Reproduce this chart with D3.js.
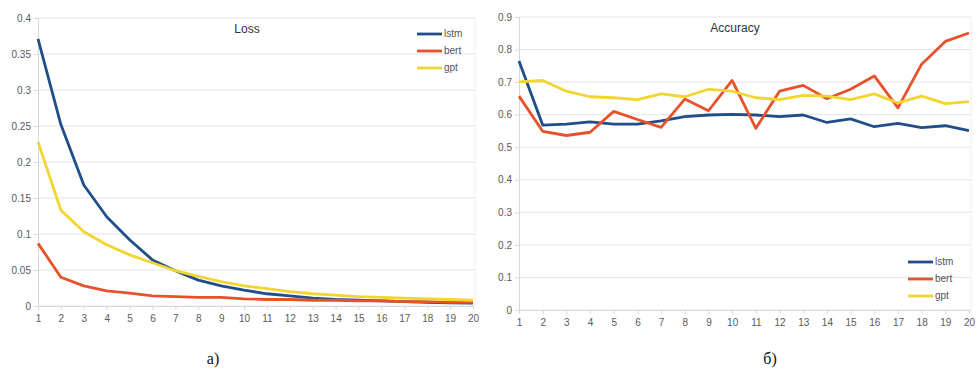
<!DOCTYPE html>
<html>
<head>
<meta charset="utf-8">
<script src="https://cdn.jsdelivr.net/npm/d3@7"></script>
<style>
  body { margin: 0; background: #fff; }
  svg { display: block; }
  .tick text { fill: #5a5a5a; font-family: "Liberation Sans", Arial, sans-serif; font-size: 10px; }
</style>
</head>
<body>
<div id="chart"></div>
<script>
// epochs 1..20
var epochs = d3.range(1, 21);

// Loss values
var lossLstm = [0.371, 0.252, 0.168, 0.124, 0.092, 0.064, 0.049, 0.036, 0.028, 0.022,
                0.017, 0.014, 0.011, 0.009, 0.008, 0.007, 0.006, 0.005, 0.0045, 0.004];
var lossBert = [0.087, 0.040, 0.028, 0.021, 0.018, 0.014, 0.013, 0.012, 0.012, 0.010,
                0.009, 0.009, 0.008, 0.008, 0.007, 0.007, 0.006, 0.006, 0.005, 0.005];
var lossGpt = [0.228, 0.133, 0.103, 0.085, 0.071, 0.060, 0.049, 0.041, 0.034, 0.028,
               0.024, 0.020, 0.017, 0.015, 0.013, 0.012, 0.011, 0.010, 0.009, 0.008];

// Accuracy values
var accLstm = [0.765, 0.568, 0.571, 0.578, 0.571, 0.571, 0.581, 0.594, 0.599, 0.601,
               0.599, 0.594, 0.599, 0.576, 0.587, 0.563, 0.573, 0.560, 0.566, 0.551];
var accBert = [0.657, 0.549, 0.536, 0.546, 0.610, 0.585, 0.561, 0.648, 0.612, 0.705,
               0.558, 0.672, 0.690, 0.649, 0.678, 0.719, 0.621, 0.755, 0.825, 0.851];
var accGpt = [0.701, 0.705, 0.672, 0.655, 0.652, 0.646, 0.664, 0.655, 0.678, 0.672,
              0.652, 0.646, 0.659, 0.657, 0.646, 0.664, 0.636, 0.657, 0.634, 0.640];

var lossTicks = [0, 0.05, 0.1, 0.15, 0.2, 0.25, 0.3, 0.35, 0.4];
var accTicks = [0, 0.1, 0.2, 0.3, 0.4, 0.5, 0.6, 0.7, 0.8, 0.9];

var seriesNames = ["lstm", "bert", "gpt"];
var colors = {lstm: "#1f4e8a", bert: "#e8522a", gpt: "#f2d530"};

var svg = d3.select("#chart").append("svg")
    .attr("width", 977)
    .attr("height", 370);

// draw one line chart panel
function drawPanel(opts) {
  var g = svg.append("g");
  var x = d3.scaleLinear().domain([1, 20]).range([opts.left, opts.right]);
  var y = d3.scaleLinear().domain([0, opts.max]).range([opts.bottom, opts.top]);

  // grid
  g.append("g")
    .selectAll("line")
    .data(opts.ticks)
    .enter().append("line")
      .attr("x1", opts.left).attr("x2", opts.right + 2)
      .attr("y1", d => y(d)).attr("y2", d => y(d))
      .attr("stroke", "#e4e4e4")
      .attr("stroke-width", 1);

  // right border
  g.append("line")
    .attr("x1", opts.right + 2).attr("x2", opts.right + 2)
    .attr("y1", opts.top).attr("y2", opts.bottom)
    .attr("stroke", "#eeeeee");

  // y axis
  var yAxis = d3.axisLeft(y).tickValues(opts.ticks).tickSize(4).tickPadding(3)
      .tickFormat(d => String(+d.toFixed(2)));
  var ya = g.append("g")
    .attr("transform", `translate(${opts.left},0)`)
    .call(yAxis);
  ya.select(".domain").attr("stroke", "#d8d8d8");
  ya.selectAll(".tick line").attr("stroke", "#d8d8d8");

  // x axis
  var xAxis = d3.axisBottom(x).tickValues(epochs).tickSize(4).tickPadding(5)
      .tickFormat(d3.format("d"));
  var xa = g.append("g")
    .attr("transform", `translate(0,${opts.bottom})`)
    .call(xAxis);
  xa.select(".domain").attr("stroke", "#d8d8d8");
  xa.selectAll(".tick line").attr("stroke", "#d8d8d8");

  // lines
  var line = d3.line()
    .x((d, i) => x(epochs[i]))
    .y(d => y(d));

  opts.series.forEach(function(s) {
    g.append("path")
      .datum(s.values)
      .attr("d", line)
      .attr("fill", "none")
      .attr("stroke", colors[s.name])
      .attr("stroke-width", 2.8)
      .attr("stroke-linejoin", "round");
  });

  // title
  g.append("text")
    .attr("x", opts.titleX)
    .attr("y", opts.top + 15)
    .attr("text-anchor", "middle")
    .attr("font-family", "Liberation Sans, Arial, sans-serif")
    .attr("font-size", 12)
    .attr("fill", "#333")
    .text(opts.title);

  // legend
  var leg = g.append("g")
    .attr("transform", `translate(${opts.legX},${opts.legY})`);
  seriesNames.forEach(function(n, i) {
    leg.append("line")
      .attr("x1", 0).attr("x2", 25)
      .attr("y1", i * 17).attr("y2", i * 17)
      .attr("stroke", colors[n])
      .attr("stroke-width", 2.8);
    leg.append("text")
      .attr("x", 27)
      .attr("y", i * 17 + 3)
      .attr("font-family", "Liberation Sans Narrow, Liberation Sans, sans-serif")
      .attr("font-size", 10)
      .attr("fill", "#555")
      .text(n);
  });

  // caption below
  svg.append("text")
    .attr("x", opts.capX)
    .attr("y", 364)
    .attr("text-anchor", "middle")
    .attr("font-family", "Liberation Serif, Times New Roman, serif")
    .attr("font-size", 16)
    .attr("fill", "#111")
    .text(opts.caption);
}

drawPanel({
  left: 38, right: 473, top: 18, bottom: 306, max: 0.4,
  ticks: lossTicks,
  series: [
    {name: "lstm", values: lossLstm},
    {name: "bert", values: lossBert},
    {name: "gpt", values: lossGpt}
  ],
  title: "Loss", titleX: 247,
  legX: 417, legY: 34,
  caption: "а)", capX: 213
});

drawPanel({
  left: 519, right: 969, top: 17, bottom: 310, max: 0.9,
  ticks: accTicks,
  series: [
    {name: "lstm", values: accLstm},
    {name: "bert", values: accBert},
    {name: "gpt", values: accGpt}
  ],
  title: "Accuracy", titleX: 735,
  legX: 908, legY: 262,
  caption: "б)", capX: 770
});
</script>
</body>
</html>
